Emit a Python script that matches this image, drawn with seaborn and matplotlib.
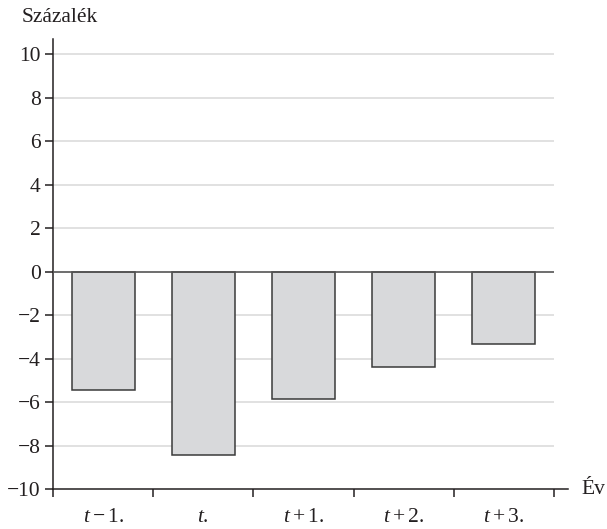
import matplotlib
matplotlib.use("Agg")
import matplotlib.pyplot as plt
import seaborn as sns
import pandas as pd

# Data
years = ["t\u22121.", "t.", "t+1.", "t+2.", "t+3."]
year_labels = [r"$t-1.$", r"$t.$", r"$t+1.$", r"$t+2.$", r"$t+3.$"]
values = [-5.45, -8.45, -5.87, -4.40, -3.35]
y_ticks = [-10, -8, -6, -4, -2, 0, 2, 4, 6, 8, 10]
y_tick_labels = ["\u221210", "\u22128", "\u22126", "\u22124", "\u22122", "0", "2", "4", "6", "8", "10"]

sns.set_style("white")
plt.rcParams["font.family"] = ["Liberation Serif", "DejaVu Serif"]
plt.rcParams["mathtext.fontset"] = "custom"
plt.rcParams["mathtext.rm"] = "Liberation Serif"
plt.rcParams["mathtext.it"] = "Liberation Serif:italic"

FS = 15.5
TXT = "#231f20"

df = pd.DataFrame({"year": years, "value": values})

fig = plt.figure(figsize=(6.07, 5.29), dpi=100)
ax = fig.add_axes([53 / 607, 40 / 529, (568 - 53) / 607, (489 - 38.8) / 529])

# light horizontal gridlines spanning the category band
for y in y_ticks:
    if y in (0, -10):
        continue
    ax.hlines(y, -0.5, 4.5, color="#dcdcdc", lw=1.2, zorder=0)

sns.barplot(data=df, x="year", y="value", color="#d8d9db", saturation=1,
            width=0.63, edgecolor="#3a3a3a", linewidth=1.1, ax=ax, zorder=2)

ax.hlines(0, -0.5, 4.5, color="#555555", lw=1.2, zorder=3)

ax.set_xlim(-0.5, 4.64)
ax.set_ylim(-10, 10.7)

for s in ("top", "right"):
    ax.spines[s].set_visible(False)
for s in ("left", "bottom"):
    ax.spines[s].set_color(TXT)
    ax.spines[s].set_linewidth(1.1)

ax.set_yticks(y_ticks)
ax.set_yticklabels(y_tick_labels)
ax.tick_params(axis="y", direction="out", length=6, width=1.1, color=TXT,
               labelsize=FS, labelcolor=TXT, pad=3, left=True)

ax.set_xticks([-0.5, 0.5, 1.5, 2.5, 3.5, 4.5])
ax.set_xticklabels([])
ax.set_xticks(range(len(years)), minor=True)
ax.set_xticklabels(year_labels, minor=True)
ax.tick_params(axis="x", which="major", direction="out", length=6, width=1.1,
               color=TXT, bottom=True)
ax.tick_params(axis="x", which="minor", length=0, labelsize=FS,
               labelcolor=TXT, pad=14)

ax.set_xlabel("")
ax.set_ylabel("")

ax.annotate("\u00c9v", xy=(1, -10), xycoords=("axes fraction", "data"),
            xytext=(10, 0), textcoords="offset points", ha="left", va="center",
            fontsize=FS, color=TXT)
fig.text(22 / 607, 1 - 18 / 529, "Százalék", ha="left", va="center",
         fontsize=FS, color=TXT)

fig.savefig("out.png", dpi=100)
